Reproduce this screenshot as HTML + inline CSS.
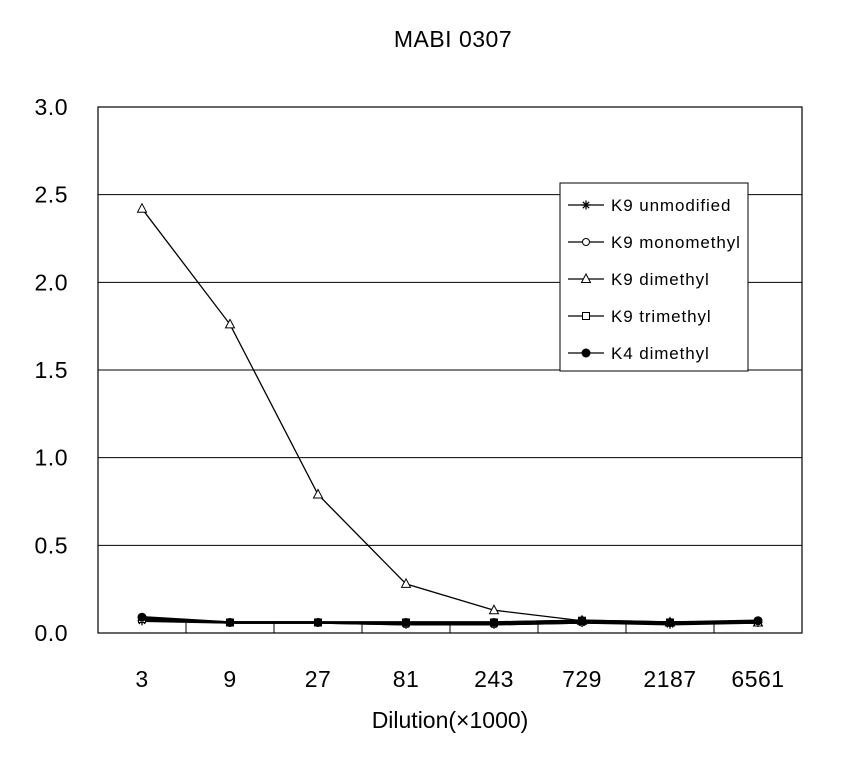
<!DOCTYPE html>
<html><head><meta charset="utf-8"><style>
body{margin:0;background:#fff;}
svg text{font-family:"Liberation Sans","Noto Sans CJK JP",sans-serif;fill:#000;}
</style></head><body>
<svg id="chart" width="848" height="760" xmlns="http://www.w3.org/2000/svg">
<text x="453" y="47" font-size="23" text-anchor="middle" letter-spacing="0.5">MABI 0307</text>
<g id="grid"></g>
<g id="series"></g>
<g id="legend"></g>
<text x="450" y="728" font-size="23" text-anchor="middle">Dilution(×1000)</text>
</svg>
<script>
const categories=["3","9","27","81","243","729","2187","6561"];
const yTicks=[0,0.5,1.0,1.5,2.0,2.5,3.0];
const k9Unmod=[0.07,0.06,0.06,0.05,0.05,0.06,0.05,0.06];
const k9Mono=[0.08,0.06,0.06,0.05,0.05,0.06,0.06,0.06];
const k9Di=[2.42,1.76,0.79,0.28,0.13,0.07,0.06,0.06];
const k9Tri=[0.08,0.06,0.06,0.06,0.06,0.07,0.06,0.06];
const k4Di=[0.09,0.06,0.06,0.06,0.06,0.07,0.06,0.07];
const seriesNames=["K9 unmodified","K9 monomethyl","K9 dimethyl","K9 trimethyl","K4 dimethyl"];
const seriesData=[k9Unmod,k9Mono,k9Di,k9Tri,k4Di];
const markers=["star","circle","triangle","square","dot"];
const NS="http://www.w3.org/2000/svg";
const L=98,R=802,T=107,B=633;
const bw=(R-L)/categories.length;
const x=i=>L+bw*(i+0.5);
const y=v=>B-(v/3)*(B-T);
function el(t,a,p){const e=document.createElementNS(NS,t);for(const k in a)e.setAttribute(k,a[k]);p.appendChild(e);return e;}
const g=document.getElementById('grid');
yTicks.forEach(v=>{
 if(v>0&&v<3){const l=el('line',{x1:L,x2:R,y1:y(v),y2:y(v),stroke:'#000','stroke-width':1},g);
 }
 const t=el('text',{x:68,y:y(v)+8,'font-size':23,'text-anchor':'end','letter-spacing':'0.5'},g);
 
 t.textContent=v.toFixed(1);
});
const fr=el('rect',{x:L,y:T,width:R-L,height:B-T,fill:'none',stroke:'#000','stroke-width':1.2},g);

categories.forEach((c,i)=>{
 if(i>0){const tk=el('line',{x1:L+bw*i,x2:L+bw*i,y1:B,y2:B-10,stroke:'#000'},g);
 }
 const t=el('text',{x:x(i),y:687,'font-size':23,'text-anchor':'middle','letter-spacing':'0.5'},g);
 
 t.textContent=c;
});
function marker(type,cx,cy,p){
 if(type==='star'){const s=4.5;el('path',{d:`M${cx-s},${cy}H${cx+s}M${cx},${cy-s}V${cy+s}M${cx-s*.7},${cy-s*.7}L${cx+s*.7},${cy+s*.7}M${cx-s*.7},${cy+s*.7}L${cx+s*.7},${cy-s*.7}`,stroke:'#000','stroke-width':1.3},p);}
 else if(type==='circle')el('circle',{cx,cy,r:3.5,fill:'#fff',stroke:'#000'},p);
 else if(type==='triangle')el('path',{d:`M${cx},${cy-5}L${cx+4.5},${cy+3.5}L${cx-4.5},${cy+3.5}Z`,fill:'#fff',stroke:'#000'},p);
 else if(type==='square')el('rect',{x:cx-3.5,y:cy-3.5,width:7,height:7,fill:'#fff',stroke:'#000'},p);
 else el('circle',{cx,cy,r:4.5,fill:'#000'},p);
}
const sg=document.getElementById('series');
seriesData.forEach((d,si)=>{
 const grp=el('g',{},sg);
 
 
 el('polyline',{points:d.map((v,i)=>x(i)+','+y(v)).join(' '),fill:'none',stroke:'#000','stroke-width':si===2?1.3:2.5},grp);
 d.forEach((v,i)=>marker(markers[si],x(i),y(v),grp));
});
const lg=document.getElementById('legend');
el('rect',{x:560,y:183,width:188,height:188,fill:'#fff',stroke:'#000'},lg);
seriesNames.forEach((n,i)=>{
 const ly=205+i*37;
 const it=el('g',{},lg);
 
 el('line',{x1:568,x2:604,y1:ly,y2:ly,stroke:'#000','stroke-width':1.3},it);
 marker(markers[i],586,ly,it);
 const t=el('text',{x:611,y:ly+6,'font-size':17,'letter-spacing':'0.9'},it);t.textContent=n;
});
</script>
</body></html>
